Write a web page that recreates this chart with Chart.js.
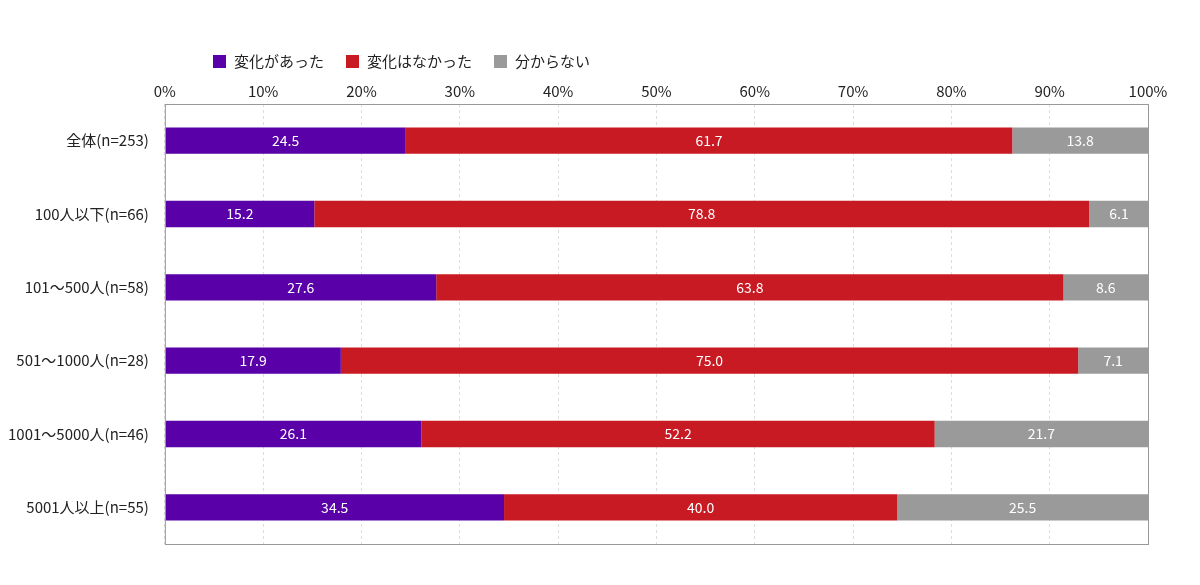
<!DOCTYPE html>
<html><head><meta charset="utf-8">
<script src="https://cdn.jsdelivr.net/npm/chart.js@4"></script>
<style>
body{margin:0;background:#fff;font-family:"Noto Sans CJK JP",sans-serif;}
#wrap{position:relative;width:1200px;height:585px;}
#legend{position:absolute;left:213px;top:50px;font-size:15px;color:#222;display:flex;gap:22px;}
#legend span i{display:inline-block;width:13px;height:13px;margin-right:8px;vertical-align:-1px;}
</style></head>
<body><div id="wrap">
<div id="legend"></div>
<canvas id="myChart" width="1200" height="585"></canvas>
</div>
<script>
const categories = ['全体(n=253)','100人以下(n=66)','101～500人(n=58)','501～1000人(n=28)','1001～5000人(n=46)','5001人以上(n=55)'];
const seriesNames = ['変化があった','変化はなかった','分からない'];
const changed = [24.5,15.2,27.6,17.9,26.1,34.5];
const unchanged = [61.7,78.8,63.8,75.0,52.2,40.0];
const unknown = [13.8,6.1,8.6,7.1,21.7,25.5];
const colors = ['#5a00a8','#c71a22','#9a9a9a'];

const legend = document.getElementById('legend');
seriesNames.forEach((n,i)=>{
  legend.innerHTML += '<span><i style="background:'+colors[i]+'"></i>'+n+'</span>';
});

// white value labels in the middle of each bar
const barLabels = {
  id:'barLabels',
  afterDatasetsDraw(chart){
    const ctx = chart.ctx;
    ctx.save();
    ctx.fillStyle='#fff';
    ctx.font='14px "Noto Sans CJK JP", sans-serif';
    ctx.textAlign='center';ctx.textBaseline='middle';
    chart.data.datasets.forEach((ds,i)=>{
      chart.getDatasetMeta(i).data.forEach((bar,j)=>{
        const p = bar.getProps(['x','base','y'],true);
        ctx.fillText(ds.data[j].toFixed(1),(p.x+p.base)/2,p.y);
      });
    });
    ctx.restore();
  }
};
// frame around plot area
const frame = {
  id:'frame',
  afterDraw(chart){
    const a = chart.chartArea, ctx = chart.ctx;
    ctx.save();ctx.strokeStyle='#999';ctx.lineWidth=1;
    ctx.strokeRect(a.left+0.5,a.top+0.5,a.right-a.left,a.bottom-a.top);
    ctx.restore();
  }
};

const data = {
  labels: categories,
  datasets: [changed,unchanged,unknown].map((d,i)=>({
    label: seriesNames[i], data: d, backgroundColor: colors[i],
    barPercentage:0.36, categoryPercentage:1
  }))
};

const config = {
  type:'bar',
  data:data,
  plugins:[barLabels,frame],
  options:{
    indexAxis:'y',
    responsive:false,
    animation:false,
    layout:{padding:{top:78,right:52,bottom:41,left:0}},
    plugins:{legend:{display:false},tooltip:{enabled:false}},
    scales:{
      x:{position:'top',stacked:true,min:0,max:100,
        ticks:{stepSize:10,callback:v=>v+'%',color:'#222',font:{size:15,family:'"Noto Sans CJK JP"'},padding:4},
        grid:{color:'#ddd',drawTicks:false,tickLength:0},
        border:{display:false,dash:[3,3]}},
      y:{stacked:true,
        ticks:{color:'#222',font:{size:15,family:'"Noto Sans CJK JP"'},padding:8},
        grid:{display:false},border:{display:false}}
    }
  }
};
const chart = new Chart(document.getElementById('myChart'),config);
</script>
</body></html>
